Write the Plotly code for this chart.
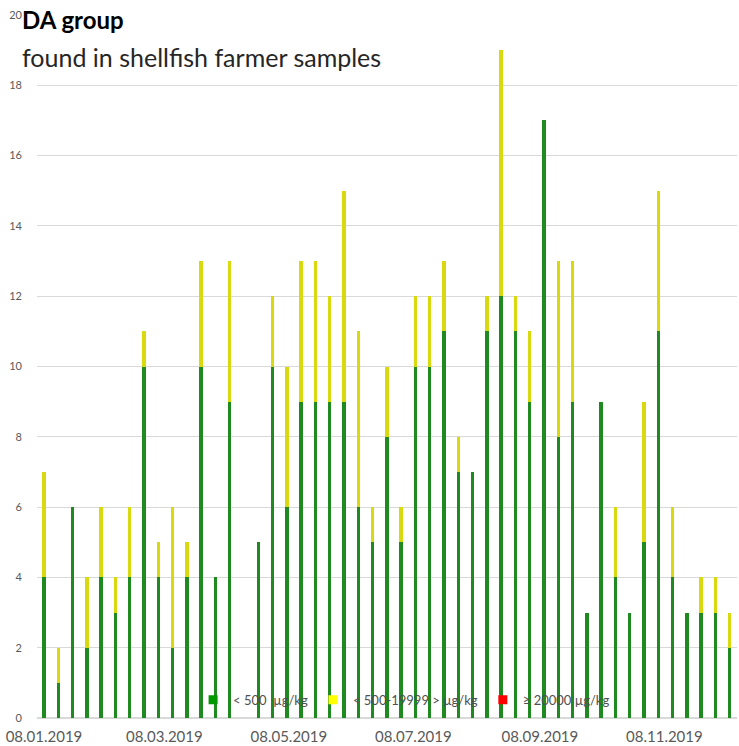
import datetime as dt
import plotly.graph_objects as go

# Weekly sampling dates (Tuesdays) from 08.01.2019 to 10.12.2019
start = dt.date(2019, 1, 8)
weeks = [start + dt.timedelta(days=7 * i) for i in range(49)]

# Number of samples per concentration class; None = no samples that week
low = [4, 1, 6, 2, 4, 3, 4, 10, 4, 2, 4, 10, 4, 9, None,
       5, 10, 6, 9, 9, 9, 9, 6, 5, 8, 5, 10, 10, 11, 7, 7,
       11, 12, 11, 9, 17, 8, 9, 3, 9, 4, 3, 5, 11, 4, 3, 3, 3, 2]
totals = [7, 2, 6, 4, 6, 4, 6, 11, 5, 6, 5, 13, 4, 13, None,
          5, 12, 10, 13, 13, 12, 15, 11, 6, 10, 6, 12, 12, 13, 8, 7,
          12, 19, 12, 11, 17, 13, 13, 3, 9, 6, 3, 9, 15, 6, 3, 4, 4, 3]
mid = [None if t is None else t - l for t, l in zip(totals, low)]
high = [None if t is None else 0 for t in totals]

series_names = ["< 500  µg/kg", "< 500-19999 > µg/kg", "≥ 20000 µg/kg"]
series_values = [low, mid, high]
bar_colors = ["#1f8a1f", "#d9d90f", "#ff0000"]
legend_colors = ["#009900", "#ffff00", "#ff0000"]

tick_dates = ["2019-01-08", "2019-03-08", "2019-05-08",
              "2019-07-08", "2019-09-08", "2019-11-08"]
tick_text = ["08.01.2019", "08.03.2019", "08.05.2019",
             "08.07.2019", "08.09.2019", "08.11.2019"]

font = "Lato, 'Open Sans', sans-serif"
grey = "#595959"
BAR_WIDTH_MS = 1.7 * 24 * 3600 * 1000  # thin weekly columns

fig = go.Figure()
for name, vals, col in zip(series_names, series_values, bar_colors):
    fig.add_trace(go.Bar(
        x=weeks, y=vals, name=name, showlegend=False,
        width=BAR_WIDTH_MS,
        marker=dict(color=col, line=dict(width=0)),
    ))
# square legend keys
for name, col in zip(series_names, legend_colors):
    fig.add_trace(go.Scatter(
        x=[None], y=[None], mode="markers", name=name,
        marker=dict(symbol="square", size=9, color=col),
    ))

fig.update_layout(
    width=739, height=746,
    margin=dict(l=37, r=2, t=15, b=28),
    paper_bgcolor="white", plot_bgcolor="white",
    barmode="stack",
    font=dict(family=font, color=grey),
    xaxis=dict(
        type="date",
        range=["2019-01-04 14:00", "2019-12-13 14:00"],
        tickvals=tick_dates, ticktext=tick_text,
        tickfont=dict(size=15, color=grey),
        showgrid=False, showline=True, linecolor="#d9d9d9",
        ticks="", ticklabelstandoff=5,
    ),
    yaxis=dict(
        range=[0, 20], dtick=2, tick0=0,
        tickfont=dict(size=11, color=grey),
        gridcolor="#d9d9d9", gridwidth=1,
        zeroline=True, zerolinecolor="#d9d9d9",
        showline=False, ticks="", ticklabelstandoff=14,
    ),
    legend=dict(
        orientation="h", x=0.223, xanchor="left",
        y=0.026, yanchor="middle", traceorder="normal",
        font=dict(size=13, color="#505050"),
        bgcolor="rgba(0,0,0,0)", itemwidth=30, tracegroupgap=0,
    ),
    annotations=[
        dict(text="<b>DA group</b>", xref="paper", yref="paper",
             x=-17 / 700, y=(718 - 20) / 703, xanchor="left", yanchor="middle",
             showarrow=False, font=dict(family=font, size=24, color="black")),
        dict(text="found in shellfish farmer samples", xref="paper", yref="paper",
             x=-17 / 700, y=(718 - 57) / 703, xanchor="left", yanchor="middle",
             showarrow=False, font=dict(family=font, size=25, color="#262626")),
    ],
)

fig.write_html("out.html")
